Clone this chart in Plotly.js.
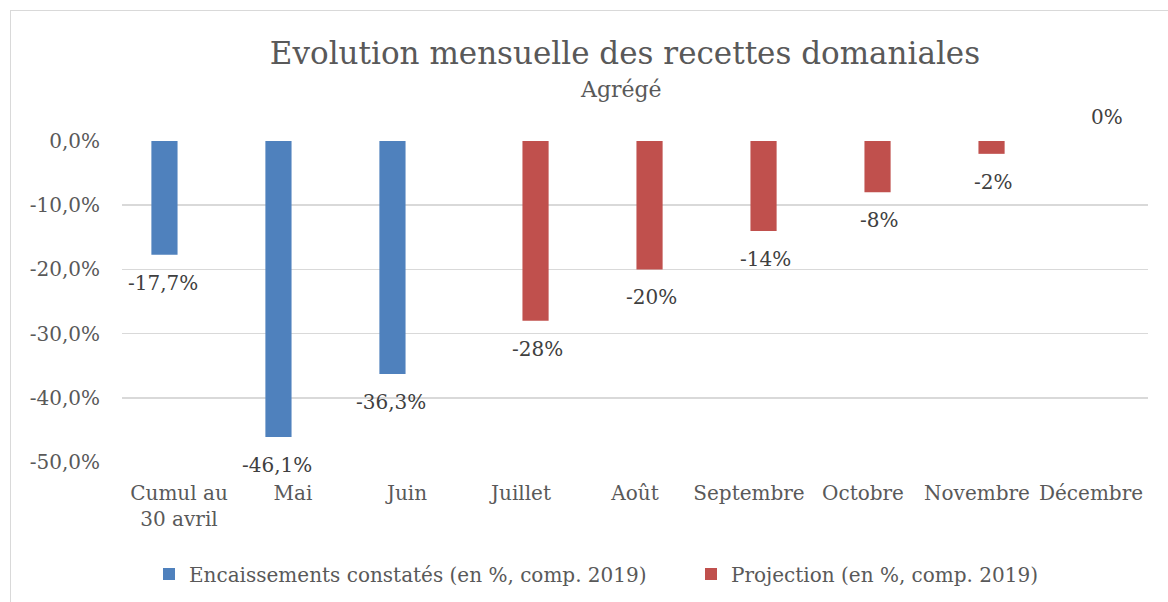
<!DOCTYPE html>
<html>
<head>
<meta charset="utf-8">
<script src="https://cdn.plot.ly/plotly-3.0.1.min.js"></script>
<style>
  html, body { margin: 0; padding: 0; background: #fff; }
  #wrap { position: relative; width: 1168px; height: 602px; overflow: hidden; }
  #frame { position: absolute; left: 10px; top: 10px; width: 1170px; height: 600px; border: 1.5px solid #d9d9d9; box-sizing: border-box; }
  #chart { position: absolute; left: 0; top: 0; width: 1168px; height: 602px; }
</style>
</head>
<body>
<div id="wrap">
  <div id="frame"></div>
  <div id="chart"></div>
</div>
<script>
const categories = ["Cumul au<br>30 avril", "Mai", "Juin", "Juillet", "Août", "Septembre", "Octobre", "Novembre", "Décembre"];
const encaissements = [-17.7, -46.1, -36.3, null, null, null, null, null, null];
const projection = [null, null, null, -28, -20, -14, -8, -2, 0];
const yTickVals = [0, -10, -20, -30, -40, -50];
const yTickText = ["0,0%", "-10,0%", "-20,0%", "-30,0%", "-40,0%", "-50,0%"];

function fmt(v, dec) {
  return v.toFixed(dec).replace(".", ",") + "%";
}

const FONT = "DejaVu Serif, serif";
const LABEL_FONT = { family: FONT, size: 20, color: "#404040" };

const traces = [
  {
    type: "bar",
    name: "Encaissements constatés (en %, comp. 2019)",
    x: categories,
    y: encaissements,
    marker: { color: "#4F81BD" },
    legend: "legend",
    hoverinfo: "none"
  },
  {
    type: "bar",
    name: "Projection (en %, comp. 2019)",
    x: categories,
    y: projection,
    marker: { color: "#C0504D" },
    legend: "legend2",
    hoverinfo: "none"
  }
];

// data labels, placed from the data through the axis scales
const annotations = [];
function addLabels(values, dec, xshift) {
  values.forEach((v, i) => {
    if (v === null) return;
    annotations.push({
      x: categories[i], y: v, xref: "x", yref: "y",
      text: fmt(v, dec),
      showarrow: false,
      xanchor: "center", yanchor: "middle",
      xshift: xshift,
      yshift: v < 0 ? -28 : 24,
      font: LABEL_FONT
    });
  });
}
addLabels(encaissements, 1, -16);
addLabels(projection, 0, 16);

annotations.push({
  text: "Agrégé",
  xref: "paper", yref: "paper",
  x: (621 - 122) / 1026, y: 1 + (141 - 89) / 321,
  xanchor: "center", yanchor: "middle",
  showarrow: false,
  font: { family: FONT, size: 22, color: "#595959" }
});

const legendBase = {
  orientation: "h",
  xref: "container", yref: "container",
  xanchor: "left", yanchor: "middle",
  y: 1 - 574 / 602,
  font: { family: FONT, size: 20, color: "#595959" },
  bgcolor: "rgba(0,0,0,0)",
  itemclick: false
};

const layout = {
  width: 1168,
  height: 602,
  paper_bgcolor: "rgba(0,0,0,0)",
  plot_bgcolor: "rgba(0,0,0,0)",
  margin: { l: 122, r: 20, t: 141, b: 140 },
  font: { family: FONT, size: 20, color: "#595959" },
  title: {
    text: "Evolution mensuelle des recettes domaniales",
    font: { family: FONT, size: 31, color: "#595959" },
    x: 625 / 1168, xanchor: "center",
    y: 1 - 64 / 602, yref: "container", yanchor: "bottom"
  },
  annotations: annotations,
  barmode: "group",
  bargap: 0.49,
  bargroupgap: 0.1,
  showlegend: true,
  legend: Object.assign({}, legendBase, { x: 149 / 1168 }),
  legend2: Object.assign({}, legendBase, { x: 691 / 1168 }),
  xaxis: {
    type: "category",
    showgrid: false,
    showline: false,
    zeroline: false,
    ticks: "",
    ticklabelstandoff: 17,
    tickfont: { family: FONT, size: 20, color: "#595959" },
    fixedrange: true
  },
  yaxis: {
    range: [-50, 0],
    tickvals: yTickVals,
    ticktext: yTickText,
    showgrid: true,
    gridcolor: "#d9d9d9",
    gridwidth: 1.5,
    zeroline: false,
    showline: false,
    ticks: "",
    ticklabelstandoff: 21,
    tickfont: { family: FONT, size: 20, color: "#595959" },
    fixedrange: true
  }
};

Plotly.newPlot("chart", traces, layout, { displayModeBar: false, staticPlot: true });
</script>
</body>
</html>
